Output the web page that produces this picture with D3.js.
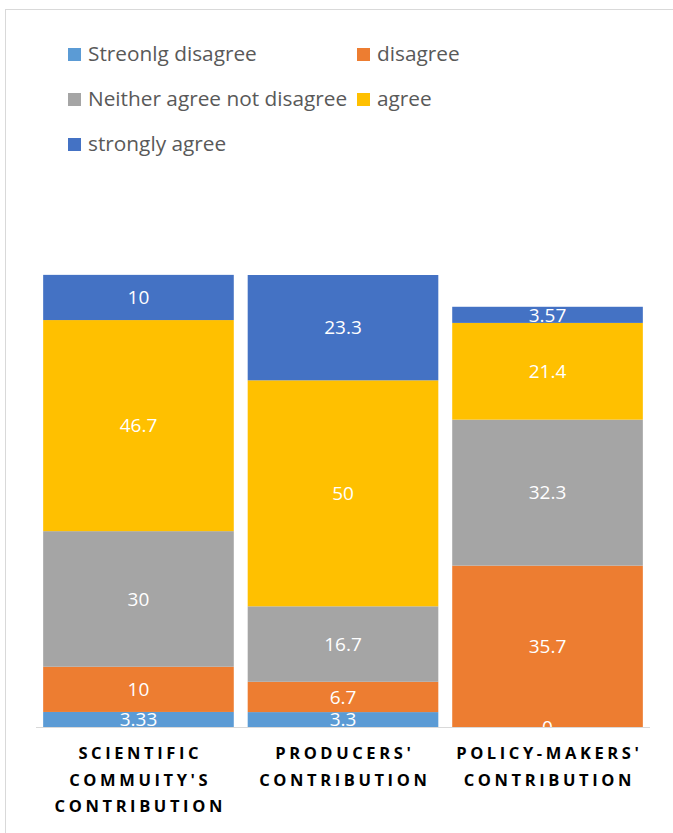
<!DOCTYPE html>
<html>
<head>
<meta charset="utf-8">
<script src="https://cdn.jsdelivr.net/npm/d3@7"></script>
<style>
  body { margin: 0; background: #fff; }
  svg { display: block; font-family: "Open Sans", "Noto Sans", sans-serif; }
</style>
</head>
<body>
<svg id="chart" width="673" height="833"></svg>
<script>
const categories = [
  ["SCIENTIFIC", "COMMUITY'S", "CONTRIBUTION"],
  ["PRODUCERS'", "CONTRIBUTION"],
  ["POLICY-MAKERS'", "CONTRIBUTION"]
];
const seriesNames = ["Streonlg disagree", "disagree", "Neither agree not disagree", "agree", "strongly agree"];
const seriesColors = ["#5B9BD5", "#ED7D31", "#A5A5A5", "#FFC000", "#4472C4"];
const strongDisagree = [3.33, 3.3, 0];
const disagree = [10, 6.7, 35.7];
const neither = [30, 16.7, 32.3];
const agree = [46.7, 50, 21.4];
const strongAgree = [10, 23.3, 3.57];

const rows = categories.map((c, i) => ({
  idx: i,
  s0: strongDisagree[i], s1: disagree[i], s2: neither[i], s3: agree[i], s4: strongAgree[i]
}));
const keys = ["s0", "s1", "s2", "s3", "s4"];

const svg = d3.select("#chart");

// chart frame
svg.append("rect")
  .attr("x", 5.5).attr("y", 9.5)
  .attr("width", 700).attr("height", 900)
  .attr("fill", "none").attr("stroke", "#d9d9d9");

const plot = { left: 36, right: 650, top: 275, bottom: 727 };

const x = d3.scaleBand()
  .domain(d3.range(categories.length))
  .range([plot.left, plot.right])
  .paddingInner(0.068)
  .paddingOuter(0.035);

const y = d3.scaleLinear()
  .domain([0, 100])
  .range([plot.bottom, plot.top]);

const layers = d3.stack().keys(keys)(rows);

svg.append("clipPath").attr("id", "plotclip")
  .append("rect")
  .attr("x", 0).attr("y", 0)
  .attr("width", 673).attr("height", plot.bottom);

svg.append("g")
  .selectAll("g.layer")
  .data(layers)
  .join("g")
  .attr("class", "layer")
  .attr("fill", (d, i) => seriesColors[i])
  .selectAll("rect")
  .data(d => d)
  .join("rect")
  .attr("x", d => x(d.data.idx))
  .attr("y", d => y(d[1]))
  .attr("width", x.bandwidth())
  .attr("height", d => y(d[0]) - y(d[1]));

// value labels, clipped at the axis like the original
const labels = svg.append("g").attr("clip-path", "url(#plotclip)");
layers.forEach(layer => {
  layer.forEach(d => {
    labels.append("text")
      .attr("x", x(d.data.idx) + x.bandwidth() / 2)
      .attr("y", (y(d[0]) + y(d[1])) / 2)
      .attr("dy", "0.36em")
      .attr("text-anchor", "middle")
      .attr("fill", "#fff")
      .attr("font-size", 19)
      .text(d.data[layer.key]);
  });
});

// axis line
svg.append("line")
  .attr("x1", plot.left).attr("x2", plot.right)
  .attr("y1", plot.bottom + 0.5).attr("y2", plot.bottom + 0.5)
  .attr("stroke", "#d9d9d9");

// category labels
categories.forEach((lines, i) => {
  const t = svg.append("text")
    .attr("text-anchor", "middle")
    .attr("font-size", 16.5)
    .attr("font-weight", "bold")
    .attr("letter-spacing", "3.6px")
    .attr("fill", "#000");
  lines.forEach((ln, j) => {
    t.append("tspan")
      .attr("x", x(i) + x.bandwidth() / 2 + 1.8)
      .attr("y", 759 + j * 26.5)
      .text(ln);
  });
});

// legend
const legendPos = [[68, 54], [357, 54], [68, 99], [357, 99], [68, 144]];
seriesNames.forEach((name, i) => {
  const [lx, ly] = legendPos[i];
  svg.append("rect")
    .attr("x", lx).attr("y", ly - 6)
    .attr("width", 13).attr("height", 13)
    .attr("fill", seriesColors[i]);
  svg.append("text")
    .attr("x", lx + 20).attr("y", ly)
    .attr("dy", "0.36em")
    .attr("font-size", 20.8)
    .attr("fill", "#595959")
    .text(name);
});
</script>
</body>
</html>
